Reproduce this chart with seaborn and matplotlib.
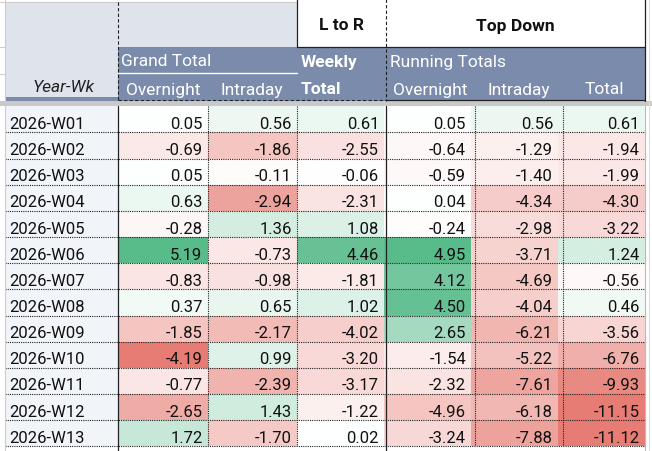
import pandas as pd
import matplotlib
matplotlib.use("Agg")
import matplotlib.pyplot as plt
import seaborn as sns
from matplotlib.colors import LinearSegmentedColormap, TwoSlopeNorm
from matplotlib.patches import Rectangle

# data
weeks = ["2026-W01", "2026-W02", "2026-W03", "2026-W04", "2026-W05", "2026-W06", "2026-W07",
         "2026-W08", "2026-W09", "2026-W10", "2026-W11", "2026-W12", "2026-W13"]
gt_overnight = [0.05, -0.69, 0.05, 0.63, -0.28, 5.19, -0.83, 0.37, -1.85, -4.19, -0.77, -2.65, 1.72]
gt_intraday = [0.56, -1.86, -0.11, -2.94, 1.36, -0.73, -0.98, 0.65, -2.17, 0.99, -2.39, 1.43, -1.70]
weekly_total = [0.61, -2.55, -0.06, -2.31, 1.08, 4.46, -1.81, 1.02, -4.02, -3.20, -3.17, -1.22, 0.02]
run_overnight = [0.05, -0.64, -0.59, 0.04, -0.24, 4.95, 4.12, 4.50, 2.65, -1.54, -2.32, -4.96, -3.24]
run_intraday = [0.56, -1.29, -1.40, -4.34, -2.98, -3.71, -4.69, -4.04, -6.21, -5.22, -7.61, -6.18, -7.88]
run_total = [0.61, -1.94, -1.99, -4.30, -3.22, 1.24, -0.56, 0.46, -3.56, -6.76, -9.93, -11.15, -11.12]

grand = pd.DataFrame({"Overnight": gt_overnight, "Intraday": gt_intraday}, index=weeks)
rest = pd.DataFrame({"Weekly Total": weekly_total, "Overnight": run_overnight,
                     "Intraday": run_intraday, "Total": run_total}, index=weeks)

# sheet geometry in pixels
W, H = 652, 452
TOP, ROW_H = 107.3, 26.15
BOTTOM = TOP + ROW_H * len(weeks)
X_LEFT, X_B, X_C, X_D, X_E, X_F, X_G, X_RIGHT = 4.5, 118, 207.5, 297, 386, 474.5, 563, 645

HEAD_LIGHT = "#dfe3eb"
HEAD_BLUE = "#7b8bab"
YEAR_BG = "#f1f4f9"
TXT = "#111111"

sns.set_theme(style="white")
plt.rcParams['font.family'] = ['Roboto', 'DejaVu Sans']

cmap = LinearSegmentedColormap.from_list("sheets", ["#e67c73", "#ffffff", "#57bb8a"])

fig = plt.figure(figsize=(W / 100, H / 100), dpi=100)
fig.patch.set_facecolor("white")


def px_axes(x0, x1, y0, y1, **kw):
    return fig.add_axes([x0 / W, 1 - y1 / H, (x1 - x0) / W, (y1 - y0) / H], **kw)


bg = px_axes(0, W, 0, H)
bg.set_xlim(0, W)
bg.set_ylim(H, 0)
bg.axis("off")


def box(x0, y0, x1, y1, color):
    bg.add_patch(Rectangle((x0, y0), x1 - x0, y1 - y0, facecolor=color, edgecolor="none", lw=0))


# header fills
box(X_LEFT, 3, X_B, 98, HEAD_LIGHT)
box(X_LEFT, 98, X_B, 101.7, HEAD_BLUE)
box(X_B, 3, X_D, 48, HEAD_LIGHT)
box(X_D, 0, X_RIGHT, 48, "white")
box(X_B, 48, X_RIGHT, 101.7, HEAD_BLUE)
box(0, 101.7, W, TOP, "#c9c9c9")
box(X_LEFT, TOP, X_B, BOTTOM, YEAR_BG)

# header text
head_kw = dict(fontsize=12.5, va="center")
bg.text((X_LEFT + X_B) / 2 + 2, 88, "Year-Wk", ha="center", style="italic", color="#222222", **head_kw)
bg.text((X_D + X_E) / 2, 26, "L to R", ha="center", fontweight="bold", color=TXT, **head_kw)
bg.text((X_E + X_RIGHT) / 2, 26, "Top Down", ha="center", fontweight="bold", color=TXT, **head_kw)
bg.text(X_B + 3, 62, "Grand Total", ha="left", color="white", **head_kw)
bg.plot([X_B, X_D], [74, 74], color="white", lw=1)
bg.text(X_D + 4, 62, "Weekly", ha="left", color="white", fontweight="bold", **head_kw)
bg.text(X_D + 4, 90, "Total", ha="left", color="white", fontweight="bold", **head_kw)
bg.text(X_E + 4, 62, "Running Totals", ha="left", color="white", **head_kw)
for x0, x1, label in [(X_B, X_C, "Overnight"), (X_C, X_D, "Intraday"),
                      (X_E, X_F, "Overnight"), (X_F, X_G, "Intraday"), (X_G, X_RIGHT, "Total")]:
    bg.text((x0 + x1) / 2, 90, label, ha="center", color="white", **head_kw)

# heatmap blocks, each group with its own colour scale
for df, x0, x1 in [(grand, X_B, X_D), (rest, X_D, X_RIGHT)]:
    ax = px_axes(x0, x1, TOP, BOTTOM)
    norm = TwoSlopeNorm(vmin=df.values.min(), vcenter=0, vmax=df.values.max())
    sns.heatmap(df, ax=ax, cmap=cmap, norm=norm, cbar=False, annot=True, fmt=".2f",
                annot_kws={"color": TXT, "ha": "right", "va": "baseline", "fontsize": 12},
                xticklabels=False, yticklabels=False)
    cell_w = (x1 - x0) / df.shape[1]
    for t in ax.texts:
        x, y = t.get_position()
        t.set_position((x + 0.5 - 5 / cell_w, y + 0.5 - 4.5 / ROW_H))

# overlay for grid lines and row labels
ov = px_axes(0, W, 0, H, facecolor="none")
ov.set_xlim(0, W)
ov.set_ylim(H, 0)
ov.axis("off")

for i, wk in enumerate(weeks):
    ov.text(X_LEFT + 4.5, TOP + (i + 1) * ROW_H - 4.5, wk, ha="left", va="baseline",
            fontsize=12, color=TXT)

dot = dict(color="#222222", lw=0.8, ls=(0, (1, 1)))
for i in range(1, len(weeks) + 1):
    y = TOP + i * ROW_H
    ov.plot([X_LEFT, X_RIGHT], [y, y], **dot)
for x in [X_C, X_D, X_F, X_G]:
    ov.plot([x, x], [TOP, BOTTOM], **dot)
for x in [X_B, X_E]:
    ov.plot([x, x], [TOP, H], color="#222222", lw=0.9)
ov.plot([X_RIGHT, X_RIGHT], [TOP, H], color="#bbbbbb", lw=0.8)

# spreadsheet grid around the table
ov.plot([0, X_D], [2.5, 2.5], color="#cccccc", lw=0.8)
ov.plot([X_LEFT, X_LEFT], [0, H], color="#cccccc", lw=0.8)
for y in [48, 75]:
    ov.plot([0, X_LEFT], [y, y], color="#cccccc", lw=0.8)
ov.plot([648.5, 648.5], [0, H], color="#dddddd", lw=0.8)

# header borders
dash = dict(color="#222222", lw=0.8, ls=(0, (3, 2)))
ov.plot([X_B, X_B], [3, 101.7], **dash)
ov.plot([X_E, X_E], [0, 101.7], **dash)
ov.plot([X_B, X_E], [101.2, 101.2], **dash)
ov.plot([X_E, X_RIGHT], [101.2, 101.2], color="#222222", lw=0.9)
ov.plot([X_D, X_D], [0, 48], color="#222222", lw=0.9)
ov.plot([X_D, X_RIGHT], [48, 48], color="#222222", lw=0.9)
ov.plot([X_RIGHT, X_RIGHT], [0, 101.7], color="#222222", lw=0.9)

fig.savefig("out.png", dpi=100)
